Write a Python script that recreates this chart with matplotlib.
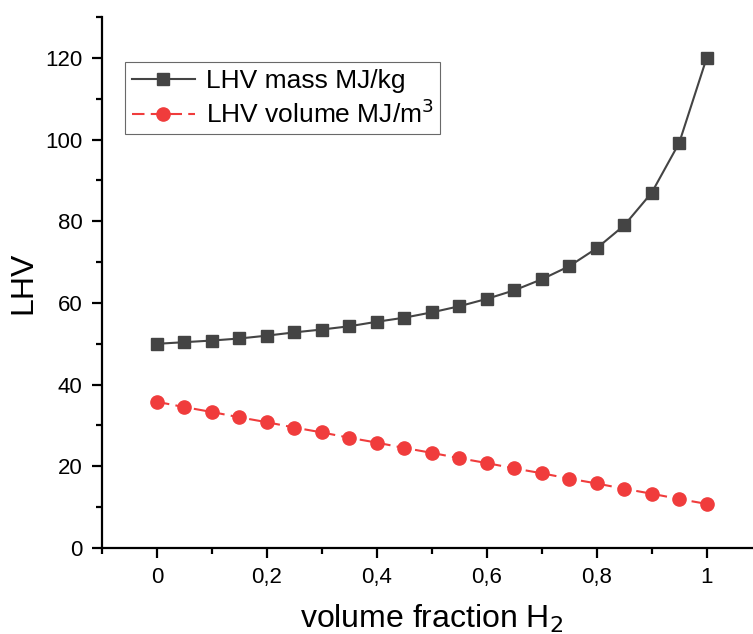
import numpy as np
import matplotlib.pyplot as plt
from matplotlib.ticker import MultipleLocator, FuncFormatter

plt.rcParams['font.family'] = ['Liberation Sans', 'DejaVu Sans']

x_frac = [0, 0.05, 0.1, 0.15, 0.2, 0.25, 0.3, 0.35, 0.4, 0.45, 0.5,
          0.55, 0.6, 0.65, 0.7, 0.75, 0.8, 0.85, 0.9, 0.95, 1.0]
lhv_mass = [50.0, 50.4, 50.8, 51.3, 52.0, 52.8, 53.5, 54.3, 55.4, 56.4, 57.7,
            59.2, 61.0, 63.1, 65.8, 69.0, 73.4, 79.0, 87.0, 99.2, 120.0]
lhv_volume = [35.8, 34.5, 33.3, 32.0, 30.8, 29.5, 28.3, 27.0, 25.8, 24.5, 23.3,
              22.0, 20.8, 19.5, 18.3, 17.0, 15.8, 14.5, 13.3, 12.0, 10.8]

fig = plt.figure(figsize=(7.53, 6.34), dpi=100)
ax = fig.add_axes([0.1355, 0.1356, 0.876, 0.8375])

ax.plot(x_frac, lhv_mass, color='#444444', lw=1.5, marker='s', ms=8,
        label='LHV mass MJ/kg')
ax.plot(x_frac, lhv_volume, color='#f03c3c', lw=1.5, ls=(0, (6, 3)), marker='o', ms=9.5,
        label='LHV volume MJ/m$^3$')

ax.set_xlim(-0.1, 1.1)
ax.set_ylim(0, 130)
ax.xaxis.set_major_locator(MultipleLocator(0.2))
ax.xaxis.set_minor_locator(MultipleLocator(0.1))
ax.yaxis.set_major_locator(MultipleLocator(20))
ax.yaxis.set_minor_locator(MultipleLocator(10))
ax.xaxis.set_major_formatter(FuncFormatter(lambda v, p: ('%g' % round(v, 2)).replace('.', ',')))

for s in ['top', 'right']:
    ax.spines[s].set_visible(False)
for s in ['left', 'bottom']:
    ax.spines[s].set_linewidth(1.6)
ax.tick_params(which='major', direction='out', length=7, width=1.6, labelsize=16, pad=7)
ax.tick_params(which='minor', direction='out', length=4, width=1.6)

ax.set_xlabel('volume fraction H$_2$', fontsize=23, labelpad=10)
ax.set_ylabel('LHV', fontsize=23, labelpad=5)

leg = ax.legend(loc='upper left', bbox_to_anchor=(0.035, 0.915), fontsize=19, frameon=True,
                fancybox=False, edgecolor='#444444', handlelength=2.4, borderpad=0.25,
                labelspacing=0.25, handletextpad=0.4, borderaxespad=0)
leg.get_frame().set_linewidth(0.8)

fig.savefig('out.png', dpi=100)
